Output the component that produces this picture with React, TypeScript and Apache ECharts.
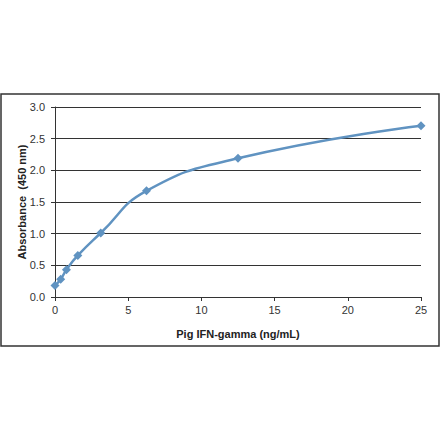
import React, { useEffect, useRef } from 'react'
import * as echarts from 'echarts'

const concentrations = [0, 0.39, 0.78, 1.56, 3.125, 6.25, 12.5, 25]
const absorbance = [0.18, 0.28, 0.43, 0.656, 1.01, 1.676, 2.19, 2.705]
const xTitle = 'Pig IFN-gamma (ng/mL)'
const yTitle = 'Absorbance  (450 nm)'

const font = '"Liberation Sans", Arial, sans-serif'

const App: React.FC = () => {
  const chartRef = useRef<HTMLDivElement>(null)

  useEffect(() => {
    if (!chartRef.current) return
    const chart = echarts.init(chartRef.current, undefined, { renderer: 'svg' })

    const option: echarts.EChartsOption = {
      animation: false,
      backgroundColor: '#fff',
      textStyle: { fontFamily: font },
      graphic: [
        {
          type: 'rect',
          shape: { x: 1, y: 94, width: 438, height: 252 },
          style: { fill: 'none', stroke: '#333', lineWidth: 1.5 },
          silent: true
        }
      ],
      grid: { left: 55, right: 19, top: 107, bottom: 144 },
      xAxis: {
        type: 'value',
        min: 0,
        max: 25,
        interval: 5,
        name: xTitle,
        nameLocation: 'middle',
        nameGap: 31,
        nameMoveOverlap: false,
        nameTextStyle: { fontWeight: 'bold', fontSize: 11, color: '#222', fontFamily: font },
        axisLine: { show: true, lineStyle: { color: '#333', width: 1 } },
        axisTick: { show: true, length: 4, lineStyle: { color: '#333' } },
        axisLabel: { fontSize: 11, color: '#333', margin: 7, fontFamily: font },
        splitLine: { show: false }
      } as any,
      yAxis: {
        type: 'value',
        min: 0,
        max: 3,
        interval: 0.5,
        name: yTitle,
        nameLocation: 'middle',
        nameGap: 28,
        nameMoveOverlap: false,
        nameTextStyle: { fontWeight: 'bold', fontSize: 11, color: '#222', fontFamily: font },
        axisLine: { show: true, lineStyle: { color: '#333', width: 1 } },
        axisTick: { show: true, length: 4, lineStyle: { color: '#333' } },
        axisLabel: {
          fontSize: 11,
          color: '#333',
          margin: 10,
          fontFamily: font,
          formatter: (v: number) => v.toFixed(1)
        },
        splitLine: { show: true, lineStyle: { color: '#333', width: 1 } }
      } as any,
      series: [
        {
          type: 'line',
          data: concentrations.map((c, i) => [c, absorbance[i]]),
          smooth: 0.5,
          symbol: 'diamond',
          symbolSize: 9,
          showAllSymbol: true,
          itemStyle: { color: '#6093c1' },
          lineStyle: { color: '#6093c1', width: 2.5 }
        }
      ]
    }

    chart.setOption(option)
    return () => {
      chart.dispose()
    }
  }, [])

  return (
    <div
      ref={chartRef}
      style={{ position: 'fixed', left: 0, top: 0, width: 440, height: 441 }}
    />
  )
}

export default App
